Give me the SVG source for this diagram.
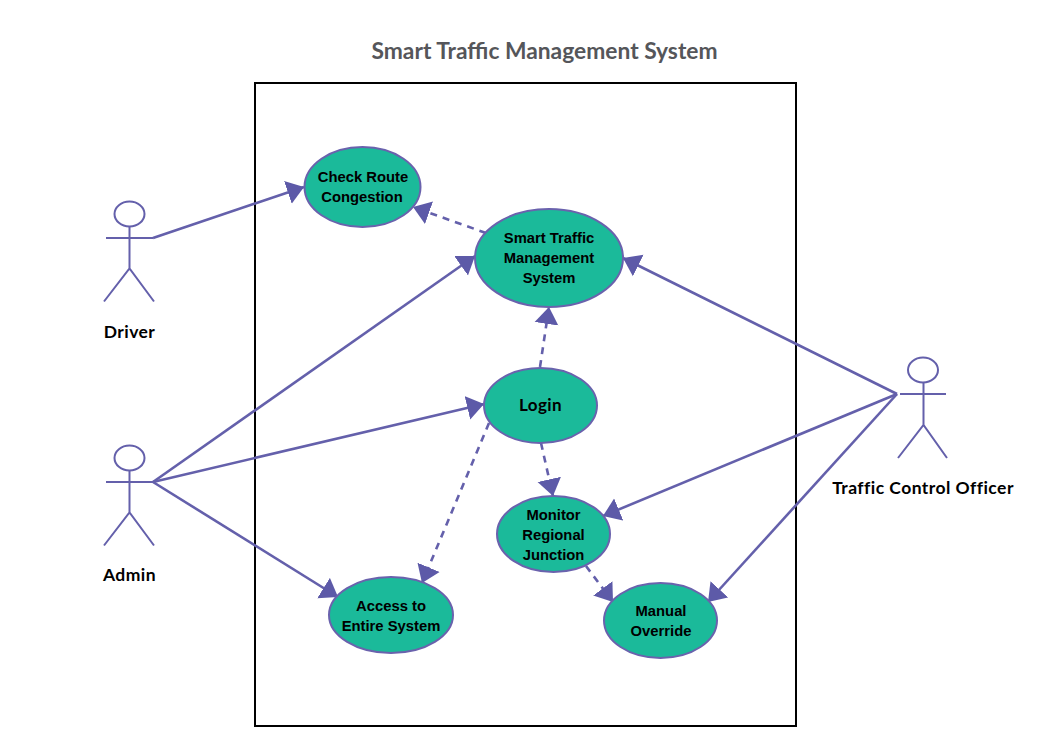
<svg xmlns="http://www.w3.org/2000/svg" width="1040" height="750" viewBox="0 0 1040 750">
<defs>
<marker id="arrow" markerUnits="userSpaceOnUse" markerWidth="19" markerHeight="25" refX="17" refY="12.500" orient="auto" viewBox="0 0 19 25">
<path d="M0,0.500 L17,12.500 L0,24.500 Z" fill="#5d5aa8"/>
</marker>
</defs>
<style>
.bg{fill:#ffffff}
.title{font:700 22.800px Lato,"Liberation Sans",sans-serif;fill:#55565a;text-anchor:middle}
.box{fill:none;stroke:#000000;stroke-width:2}
.uc{fill:#1bba9a;stroke:#6a62ad;stroke-width:2}
.ut{font:700 14.800px "Liberation Sans",Arial,sans-serif;fill:#000000;text-anchor:middle}
.login{font:700 17px Lato,"Liberation Sans",sans-serif;letter-spacing:.4px;fill:#000000;text-anchor:middle}
.al{font:700 17.500px Lato,"Liberation Sans",sans-serif;letter-spacing:.45px;fill:#000000;text-anchor:middle}
.st{fill:none;stroke:#6460ab;stroke-width:2}
.c{fill:none;stroke:#6460ab;stroke-width:2.600;marker-end:url(#arrow)}
.d{stroke-dasharray:7 6}
</style>
<rect class="bg" width="1040" height="750"/>
<text class="title" x="544.500" y="58.500">Smart Traffic Management System</text>
<rect class="box" x="255" y="83" width="541" height="643"/>
<g id="connectors">
<line class="c" x1="153" y1="238" x2="304" y2="187"/>
<line class="c" x1="153" y1="482" x2="475" y2="256"/>
<line class="c" x1="153" y1="482" x2="484" y2="404"/>
<line class="c" x1="153" y1="482" x2="338" y2="597"/>
<line class="c" x1="897" y1="394" x2="623" y2="258"/>
<line class="c" x1="897" y1="394" x2="603" y2="516"/>
<line class="c" x1="897" y1="394" x2="708" y2="602"/>
<line class="c d" x1="486" y1="233" x2="413" y2="207"/>
<line class="c d" x1="540" y1="367" x2="549" y2="307"/>
<line class="c d" x1="541" y1="443" x2="553" y2="496"/>
<line class="c d" x1="586" y1="566" x2="613" y2="602"/>
<line class="c d" x1="489" y1="423" x2="422" y2="583"/>
</g>
<g id="actor-driver">
<ellipse class="st" cx="129.500" cy="214" rx="15" ry="12.500"/>
<path class="st" d="M129.500,226.500V268.500M106,238H153M104,301.500L129.500,268.500L154,301.500"/>
<text class="al" x="129.500" y="337.500">Driver</text>
</g>
<g id="actor-admin">
<ellipse class="st" cx="129.500" cy="458" rx="15" ry="12.500"/>
<path class="st" d="M129.500,470.500V512.500M106,482H153M104,545.500L129.500,512.500L154,545.500"/>
<text class="al" x="129.500" y="580.500">Admin</text>
</g>
<g id="actor-officer">
<ellipse class="st" cx="923" cy="370" rx="15" ry="12.500"/>
<path class="st" d="M923.500,382.500V425M900,394H946M898,458L923.500,425L947,458"/>
<text class="al" x="923" y="493.500">Traffic Control Officer</text>
</g>
<g id="uc-check">
<ellipse class="uc" cx="362.500" cy="187" rx="58" ry="40"/>
<text class="ut" x="363" y="182">Check Route</text>
<text class="ut" x="362" y="202">Congestion</text>
</g>
<g id="uc-smart">
<ellipse class="uc" cx="549" cy="258" rx="74" ry="49"/>
<text class="ut" x="549" y="243">Smart Traffic</text>
<text class="ut" x="549" y="263">Management</text>
<text class="ut" x="549" y="283">System</text>
</g>
<g id="uc-login">
<ellipse class="uc" cx="540.500" cy="405.500" rx="56.500" ry="37.500"/>
<text class="login" x="540.500" y="411">Login</text>
</g>
<g id="uc-monitor">
<ellipse class="uc" cx="553.500" cy="534" rx="56.500" ry="38"/>
<text class="ut" x="553.500" y="520">Monitor</text>
<text class="ut" x="553.500" y="540">Regional</text>
<text class="ut" x="553.500" y="560">Junction</text>
</g>
<g id="uc-manual">
<ellipse class="uc" cx="660.500" cy="620.500" rx="56.500" ry="37.500"/>
<text class="ut" x="661" y="616">Manual</text>
<text class="ut" x="661" y="636">Override</text>
</g>
<g id="uc-access">
<ellipse class="uc" cx="391" cy="615" rx="62" ry="38"/>
<text class="ut" x="391" y="611">Access to</text>
<text class="ut" x="391" y="631">Entire System</text>
</g>
</svg>
